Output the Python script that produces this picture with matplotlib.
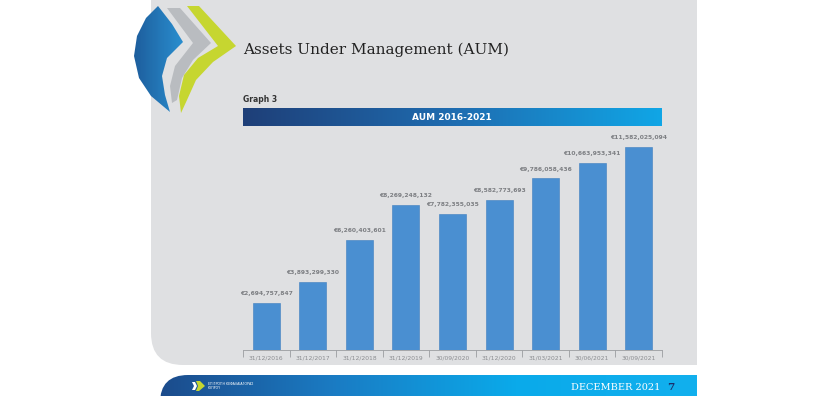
import numpy as np
import matplotlib.pyplot as plt
from matplotlib.patches import FancyBboxPatch, Rectangle, Polygon
from matplotlib.colors import LinearSegmentedColormap

# data
dates = ['31/12/2016', '31/12/2017', '31/12/2018', '31/12/2019', '30/09/2020',
         '31/12/2020', '31/03/2021', '30/06/2021', '30/09/2021']
aum = [2694757847, 3893299330, 6260403601, 8269248132, 7782355035,
       8582773693, 9786058436, 10663953341, 11582025094]

W, H = 825, 396
fig = plt.figure(figsize=(W / 100, H / 100), dpi=100, facecolor='white')

# background layer in pixel coords
bg = fig.add_axes([0, 0, 1, 1])
bg.set_xlim(0, W)
bg.set_ylim(H, 0)
bg.axis('off')

panel_col = '#dfe0e2'
bg.add_patch(FancyBboxPatch((151, -60), 546, 425, boxstyle='round,pad=0,rounding_size=32',
                            fc=panel_col, ec='none'))
bg.add_patch(Rectangle((600, 0), 97, 365, fc=panel_col, ec='none'))

# logo chevrons
blue_shape = [(158, 6), (146, 18), (137, 36), (134, 56), (139, 78), (151, 96), (170, 112),
              (165, 95), (162, 76), (167, 58), (183, 42), (172, 24)]
gray_shape = [(167, 8), (180, 8), (211, 43), (193, 60), (182, 78), (177, 100), (172, 103),
              (170, 86), (175, 66), (193, 43)]
lime_shape = [(187, 6), (199, 6), (236, 46), (213, 62), (196, 80), (187, 100), (181, 113),
              (179, 96), (184, 75), (198, 58), (218, 46)]
bg.add_patch(Polygon(gray_shape, closed=True, fc='#b9bcc0', ec='none'))
bg.add_patch(Polygon(lime_shape, closed=True, fc='#c6d630', ec='none'))
bp = Polygon(blue_shape, closed=True, fc='none', ec='none')
bg.add_patch(bp)
blue_cmap = LinearSegmentedColormap.from_list('lb', ['#1d5d9c', '#2a8fd0'])
im = bg.imshow(np.linspace(0, 1, 64).reshape(1, -1), cmap=blue_cmap, aspect='auto',
               extent=(133, 184, 113, 5), zorder=2)
im.set_clip_path(bp)

bg.text(243, 50, 'Assets Under Management (AUM)', fontsize=11, family='DejaVu Serif',
        color='#222222', va='center', ha='left')
bg.text(243, 100, 'Graph 3', fontsize=5.5, fontweight='bold', color='#333333',
        va='center', ha='left')

# header band
band_cmap = LinearSegmentedColormap.from_list('band', ['#1e3f78', '#1f6cb0', '#10a6e6'])
bg.imshow(np.linspace(0, 1, 256).reshape(1, -1), cmap=band_cmap, aspect='auto',
          extent=(243, 662, 126, 108), zorder=2)
bg.text(452, 117, 'AUM 2016-2021', fontsize=6.5, fontweight='bold', color='white',
        va='center', ha='center', zorder=3)

# footer band: rounded on the left only
foot = FancyBboxPatch((160, 375), 580, 60, boxstyle='round,pad=0,rounding_size=28',
                      fc='none', ec='none')
bg.add_patch(foot)
foot_cmap = LinearSegmentedColormap.from_list('foot', ['#1c4a8a', '#1a7cc4', '#0aaaea', '#12b0ee'])
fi = bg.imshow(np.linspace(0, 1, 256).reshape(1, -1), cmap=foot_cmap, aspect='auto',
               extent=(155, 697, 396, 375), zorder=2)
fi.set_clip_path(foot)
bg.add_patch(Polygon([(196, 381), (200, 381), (205, 386), (199, 391), (196, 391), (198, 386)],
                     closed=True, fc='#c6d630', ec='none', zorder=3))
bg.add_patch(Polygon([(192, 382), (195, 382), (197, 386), (195, 390), (192, 390), (194, 386)],
                     closed=True, fc='white', ec='none', zorder=3))
bg.text(208, 386, 'ΕΠΙΤΡΟΠΗ ΚΕΦΑΛΑΙΑΓΟΡΑΣ\nΚΥΠΡΟΥ', fontsize=2.3, color='white',
        va='center', ha='left', zorder=3, linespacing=1.1)
bg.text(660, 387, 'DECEMBER 2021', fontsize=7, family='DejaVu Serif', color='white',
        va='center', ha='right', zorder=3)
bg.text(667, 387, '7', fontsize=7.5, family='DejaVu Serif', fontweight='bold',
        color='#1b2f6b', va='center', ha='left', zorder=3)

# chart
x0, x1, ybase, ytop = 243, 662, 350, 130
ax = fig.add_axes([x0 / W, (H - ybase) / H, (x1 - x0) / W, (ybase - ytop) / H])
ax.set_facecolor('none')
pos = np.arange(len(dates))
ax.bar(pos, aum, width=0.58, color='#4a8fd1', edgecolor='#3f7fbf', linewidth=0.4)
for p, v in zip(pos, aum):
    ax.annotate('€{:,}'.format(v), (p, v), xytext=(0, 5), textcoords='offset points',
                ha='center', va='bottom', fontsize=4.3, fontweight='bold', color='#7d7f83')
ax.set_xlim(-0.5, len(dates) - 0.5)
ax.set_ylim(0, 12.55e9)
for s in ['top', 'right', 'left']:
    ax.spines[s].set_visible(False)
ax.spines['bottom'].set_color('#9a9ca0')
ax.spines['bottom'].set_linewidth(0.6)
ax.set_yticks([])
ax.set_xticks(pos)
ax.set_xticklabels(dates, fontsize=4.3, color='#8a8c90')
ax.tick_params(axis='x', which='major', length=0, pad=4)
ax.set_xticks(np.arange(-0.5, len(dates)), minor=True)
ax.tick_params(axis='x', which='minor', length=5, width=0.6, color='#9a9ca0')

fig.savefig('out.png', dpi=100, facecolor='white')
